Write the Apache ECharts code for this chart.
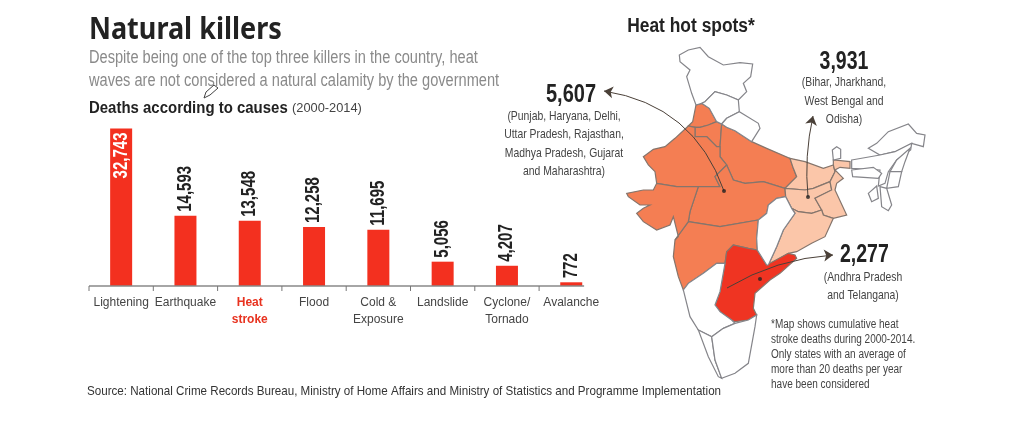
<!DOCTYPE html>
<html><head><meta charset="utf-8">
<style>html,body{margin:0;padding:0;background:#fff}#c{width:1024px;height:425px}</style>
<script src="https://cdn.jsdelivr.net/npm/echarts@6/dist/echarts.min.js"></script>
</head><body><div id="c"></div>
<script>
const categories = ['Lightening','Earthquake','Heat\nstroke','Flood','Cold &\nExposure','Landslide','Cyclone/\nTornado','Avalanche'];
const deaths = [32743,14593,13548,12258,11695,5056,4207,772];
const highlightCategory = 'Heat\nstroke';
const hotSpotTotals = {high:'5,607', mid:'3,931', top:'2,277'};

// Hand-traced outline of the base map, in a 3x trace frame of the picture.
const highStates = {
 Punjab:[228,195,245,190,268,205,290,245,265,255,240,262,225,262,205,258,218,245],
 Haryana:[240,262,265,255,290,245,305,252,300,320,290,320,260,290,225,290,225,262],
 UttarPradesh:[305,252,320,262,345,272,395,305,440,325,510,355,520,385,530,410,495,445,430,425,375,430,340,420,320,375,300,350,300,320],
 Rajasthan:[70,350,100,328,135,320,165,295,205,258,225,262,225,290,260,290,290,320,300,320,300,350,320,375,285,410,300,440,235,440,170,440,110,430,105,395,85,375],
 MadhyaPradesh:[235,440,300,440,285,410,320,375,340,420,375,430,430,425,495,445,497,470,470,475,445,495,440,520,415,540,300,560,205,545,210,515],
 Maharashtra:[205,545,300,560,415,540,410,595,412,630,385,625,340,615,320,635,315,670,290,670,250,700,205,730,190,750,175,710,160,650,165,600],
 Gujarat:[165,600,175,590,160,530,150,555,110,570,70,545,50,520,70,505,90,495,60,495,25,470,20,460,70,450,100,450,110,430,170,440,235,440,210,515,205,545]
};
const midStates = {
 Bihar:[510,355,555,365,610,385,640,375,645,395,630,425,580,445,555,450,495,445,530,410,520,385],
 Jharkhand:[495,445,555,450,580,445,630,425,635,450,585,475,605,510,575,520,535,515,515,505,497,470],
 WestBengal:[640,375,640,360,690,365,690,385,660,382,645,390,670,415,650,430,645,450,680,525,640,535,610,525,605,510,585,475,635,450,630,425,645,395],
 Odisha:[515,505,535,515,575,520,605,510,610,525,640,535,615,590,575,610,530,635,505,640,445,675,470,620,490,570,525,520]
};
const topStates = {
 AndhraTelangana:[340,615,385,625,412,630,440,675,505,640,525,645,530,655,480,700,450,720,405,760,400,805,410,825,385,840,345,845,335,840,300,815,285,795,300,755,315,670,320,635]
};
const otherStates = {
 Kashmir:[178,45,205,30,240,22,265,50,310,75,360,68,398,72,392,110,370,130,380,155,355,180,320,165,285,155,255,185,245,190,228,195,215,160,200,110,210,90,180,65],
 Himachal:[255,185,285,155,320,165,355,180,358,215,320,235,305,252,290,245,268,205,245,190],
 Uttarakhand:[320,235,358,215,415,250,420,265,395,305,345,272,320,262,305,252],
 Chhattisgarh:[445,495,470,475,497,470,515,505,525,520,490,570,470,620,445,675,440,675,412,630,410,595,415,540,440,520],
 Karnataka:[190,750,205,730,250,700,290,670,315,670,300,755,285,795,300,815,335,840,345,850,310,865,275,890,235,870,210,830],
 Kerala:[235,870,275,890,285,960,305,1015,295,1010,265,950],
 TamilNadu:[275,890,310,865,345,850,385,840,410,825,405,860,385,970,345,1000,305,1015,285,960],
 Sikkim:[637,330,650,320,662,328,662,355,640,360],
 Arunachal:[745,325,770,310,805,275,865,252,890,280,915,285,910,320,875,310,825,335,780,345],
 Assam:[695,360,780,345,825,335,875,310,872,330,830,360,805,395,795,430,775,438,780,390,695,385],
 Meghalaya:[695,390,760,382,785,400,775,415,698,410],
 Nagaland:[830,360,870,325,855,365,845,395,810,395],
 Manipur:[810,395,845,395,835,440,800,445],
 Mizoram:[780,440,800,445,815,495,805,512,785,500],
 Tripura:[745,460,770,438,775,475,755,485]
};
const pointer5607 = [[724,191],[604,91]];
const pointer3931 = [[808,197],[813,116]];
const pointer2277 = [[727,288],[833,255]];
const pointerDots = [[724,191],[808,197],[760,279]];

const SANS = '"Liberation Sans",sans-serif';
const tracePt = (u,v)=>[620+u/3, 40+v/3];
const ring = flat => { const r=[]; for(let i=0;i<flat.length;i+=2) r.push(tracePt(flat[i],flat[i+1])); r.push(r[0]); return r; };
const allGroups = [highStates,midStates,topStates,otherStates];
const features = [];
allGroups.forEach(g=>Object.keys(g).forEach(n=>features.push({type:'Feature',properties:{name:n},geometry:{type:'Polygon',coordinates:[ring(g[n])]}})));
echarts.registerMap('india',{type:'FeatureCollection',features});
let x0=1e9,x1=-1e9,y0=1e9,y1=-1e9;
features.forEach(f=>f.geometry.coordinates[0].forEach(p=>{x0=Math.min(x0,p[0]);x1=Math.max(x1,p[0]);y0=Math.min(y0,p[1]);y1=Math.max(y1,p[1]);}));

const regionStyle=(g,c)=>Object.keys(g).map(n=>({name:n,itemStyle:{areaColor:c,borderColor:'#85756c',borderWidth:1.2}}));

const txt=(text,x,y,font,color,scale,align)=>({type:'text',silent:true,z:20,x,y,scaleX:scale,style:{text,x:0,y:0,font,fill:color,align:align||'left',verticalAlign:'middle'}});
const D='13.5px '+SANS, F='12px '+SANS, B='bold 25px '+SANS, S=0.77, SF=0.835;
const texts=[
 txt('Natural killers',89,30,'bold 30px "Noto Sans"','#222',0.9),
 txt('Despite being one of the top three killers in the country, heat',89,58,'17.5px '+SANS,'#8a8a8a',0.835),
 txt('waves are not considered a natural calamity by the government',89,81,'17.5px '+SANS,'#8a8a8a',0.835),
 txt('Deaths according to causes',89,108,'bold 17px '+SANS,'#222',0.88),
 txt('(2000-2014)',292,108.5,'13.5px '+SANS,'#444',0.95),
 txt('Heat hot spots*',691,26,'bold 20px '+SANS,'#222',0.87,'center'),
 txt(hotSpotTotals.high,571,95,B,'#222',0.8,'center'),
 txt('(Punjab, Haryana, Delhi,',564,116,D,'#444',S,'center'),
 txt('Uttar Pradesh, Rajasthan,',564,134,D,'#444',S,'center'),
 txt('Madhya Pradesh, Gujarat',564,153,D,'#444',S,'center'),
 txt('and Maharashtra)',564,171,D,'#444',S,'center'),
 txt(hotSpotTotals.mid,844,62,B,'#222',0.78,'center'),
 txt('(Bihar, Jharkhand,',844,82,D,'#444',S,'center'),
 txt('West Bengal and',844,101,D,'#444',S,'center'),
 txt('Odisha)',844,119,D,'#444',S,'center'),
 txt(hotSpotTotals.top,840,255,B,'#222',0.78),
 txt('(Andhra Pradesh',863,277,D,'#444',S,'center'),
 txt('and Telangana)',863,295,D,'#444',S,'center'),
 txt('*Map shows cumulative heat',771,325,F,'#444',SF),
 txt('stroke deaths during 2000-2014.',771,340,F,'#444',SF),
 txt('Only states with an average of',771,355,F,'#444',SF),
 txt('more than 20 deaths per year',771,370,F,'#444',SF),
 txt('have been considered',771,385,F,'#444',SF),
 txt('Source: National Crime Records Bureau, Ministry of Home Affairs and Ministry of Statistics and Programme Implementation',87,391,'13.5px '+SANS,'#333',0.86)
];
const pencil={type:'polygon',silent:true,z:21,shape:{points:[[204,98],[206,92],[214,85],[218,88],[210,95]]},style:{fill:'#fff',stroke:'#444',lineWidth:1}};

const chart=echarts.init(document.getElementById('c'));
chart.setOption({
 animation:false,
 backgroundColor:'#fff',
 grid:{left:89,width:514.4,top:128.5,height:157.5},
 xAxis:{type:'category',data:categories.map(c=>c===highlightCategory?{value:c,textStyle:{color:'#e8321f',fontWeight:'bold'}}:c),
  axisLine:{show:false},axisTick:{show:false},
  axisLabel:{interval:0,margin:8,fontFamily:SANS,fontSize:12,color:'#444',lineHeight:17,verticalAlign:'top'}},
 yAxis:{type:'value',min:0,max:32743,show:false},
 geo:{map:'india',roam:false,silent:true,left:x0,top:y0,width:x1-x0,height:y1-y0,
  projection:{project:p=>p,unproject:p=>p},
  label:{show:false},
  itemStyle:{areaColor:'#fff',borderColor:'#85858a',borderWidth:1.2},
  regions:[...regionStyle(highStates,'#f47e53'),...regionStyle(midStates,'#fbc6a9'),...regionStyle(topStates,'#ef3422')]},
 series:[
  {type:'bar',barWidth:22,itemStyle:{color:'#f3301f'},z:3,data:deaths},
  {type:'custom',z:4,silent:true,encode:{x:0,y:1},data:deaths.map((v,i)=>[i,v]),
   renderItem:(params,api)=>{
     const v=api.value(1), p=api.coord([api.value(0),v]), inside=params.dataIndex===0;
     return {type:'text',x:p[0],y:inside?p[1]+4:p[1]-4,rotation:Math.PI/2,scaleX:0.77,
       style:{text:v.toLocaleString('en-US'),x:0,y:0,font:'bold 19.5px '+SANS,fill:inside?'#fff':'#222',
         align:inside?'right':'left',verticalAlign:'middle'}};
   }},
  {type:'lines',coordinateSystem:'geo',z:6,symbol:['none','arrow'],symbolSize:9,
   lineStyle:{color:'#4a4038',width:1,opacity:1},
   data:[{coords:pointer5607,lineStyle:{curveness:-0.3}},{coords:pointer3931,lineStyle:{curveness:0.08}},{coords:pointer2277,lineStyle:{curveness:0.12}}]},
  {type:'scatter',coordinateSystem:'geo',z:7,symbolSize:4,itemStyle:{color:'#222'},data:pointerDots}
 ],
 graphic:[...texts,pencil]
});
const band=chart.convertToPixel({xAxisIndex:0},1)-chart.convertToPixel({xAxisIndex:0},0);
const axisY=chart.convertToPixel({yAxisIndex:0},0);
const first=chart.convertToPixel({xAxisIndex:0},0)-band/2;
const axisMarks=[{type:'line',silent:true,z:5,shape:{x1:first,y1:axisY,x2:first+band*7.7,y2:axisY},style:{stroke:'#888',lineWidth:1.5}}];
categories.forEach((c,i)=>axisMarks.push({type:'line',silent:true,z:5,shape:{x1:first+band*i,y1:axisY,x2:first+band*i,y2:axisY+5},style:{stroke:'#777',lineWidth:1}}));
chart.setOption({graphic:[...texts,pencil,...axisMarks]});
</script></body></html>
